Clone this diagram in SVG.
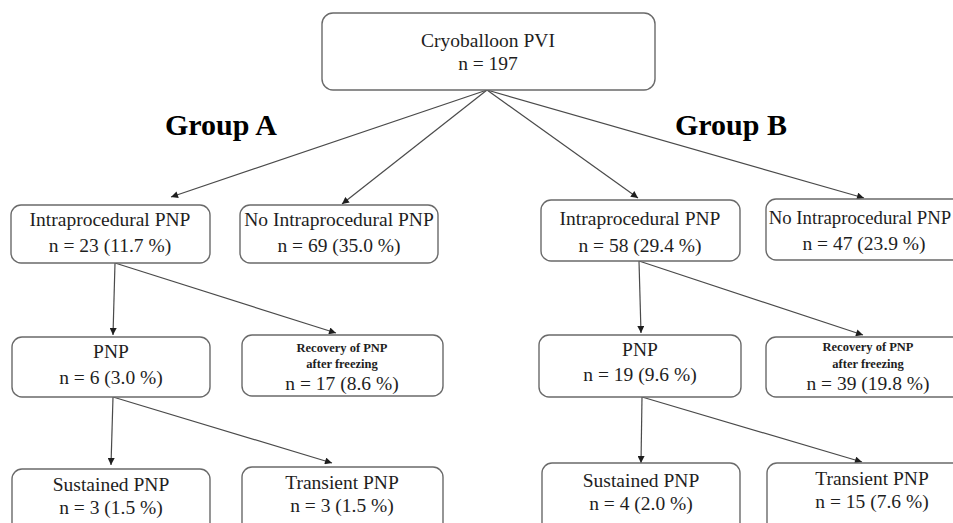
<svg xmlns="http://www.w3.org/2000/svg" width="953" height="523" viewBox="0 0 953 523">
<style>
.box{fill:#fff;stroke:#6a6a6a;stroke-width:1.4}
.t{font-family:"Liberation Serif","Times New Roman",serif;font-size:19.5px;fill:#1e1e1e;text-anchor:middle}
.s{font-family:"Liberation Serif","Times New Roman",serif;font-size:12.5px;font-weight:bold;fill:#1e1e1e;text-anchor:middle}
.g{font-family:"Liberation Serif","Times New Roman",serif;font-size:30px;font-weight:bold;fill:#000;text-anchor:middle}
.c{fill:none;stroke:#4a4a4a;stroke-width:1.2}
</style>
<defs>
<marker id="ah" viewBox="0 0 10 10" refX="10" refY="5" markerWidth="8" markerHeight="7" markerUnits="userSpaceOnUse" orient="auto">
<path d="M0,0 L10,5 L0,10 z" fill="#1e1e1e"/>
</marker>
</defs>
<rect width="953" height="523" fill="#fff"/>
<g id="connectors">
<line class="c" x1="487" y1="90" x2="171" y2="197" marker-end="url(#ah)"/>
<line class="c" x1="487" y1="90" x2="342" y2="204" marker-end="url(#ah)"/>
<line class="c" x1="487" y1="90" x2="638" y2="198" marker-end="url(#ah)"/>
<line class="c" x1="487" y1="90" x2="864" y2="198" marker-end="url(#ah)"/>
<line class="c" x1="115" y1="263" x2="113" y2="335" marker-end="url(#ah)"/>
<line class="c" x1="115" y1="263" x2="336" y2="333" marker-end="url(#ah)"/>
<line class="c" x1="639" y1="261" x2="641" y2="333" marker-end="url(#ah)"/>
<line class="c" x1="639" y1="261" x2="863" y2="335" marker-end="url(#ah)"/>
<line class="c" x1="113" y1="397" x2="111" y2="465" marker-end="url(#ah)"/>
<line class="c" x1="113" y1="397" x2="332" y2="463" marker-end="url(#ah)"/>
<line class="c" x1="642" y1="397" x2="641" y2="463" marker-end="url(#ah)"/>
<line class="c" x1="642" y1="397" x2="862" y2="462" marker-end="url(#ah)"/>
</g>
<g id="labels">
<text class="g" x="221" y="135">Group A</text>
<text class="g" x="731" y="135">Group B</text>
</g>
<g id="root">
<rect class="box" x="322" y="13" width="333" height="77" rx="11"/>
<text class="t" x="488" y="47">Cryoballoon PVI</text>
<text class="t" x="488" y="70">n = 197</text>
</g>
<g id="a-intra">
<rect class="box" x="11" y="205" width="199" height="58" rx="10"/>
<text class="t" x="110" y="226">Intraprocedural PNP</text>
<text class="t" x="110" y="252">n = 23 (11.7 %)</text>
</g>
<g id="a-nointra">
<rect class="box" x="240" y="205" width="198" height="58" rx="10"/>
<text class="t" x="339" y="226">No Intraprocedural PNP</text>
<text class="t" x="339" y="252">n = 69 (35.0 %)</text>
</g>
<g id="b-intra">
<rect class="box" x="541" y="200" width="199" height="61" rx="10"/>
<text class="t" x="640" y="225">Intraprocedural PNP</text>
<text class="t" x="640" y="252">n = 58 (29.4 %)</text>
</g>
<g id="b-nointra">
<rect class="box" x="766" y="199" width="200" height="61" rx="10"/>
<text class="t" x="860" y="224" style="font-size:18.8px">No Intraprocedural PNP</text>
<text class="t" x="864" y="250">n = 47 (23.9 %)</text>
</g>
<g id="a-pnp">
<rect class="box" x="12" y="337" width="198" height="60" rx="10"/>
<text class="t" x="111" y="358">PNP</text>
<text class="t" x="111" y="384">n = 6 (3.0 %)</text>
</g>
<g id="a-recovery">
<rect class="box" x="242" y="335" width="201" height="61" rx="10"/>
<text class="s" x="342" y="352">Recovery of PNP</text>
<text class="s" x="342" y="368">after freezing</text>
<text class="t" x="342" y="390">n = 17 (8.6 %)</text>
</g>
<g id="b-pnp">
<rect class="box" x="539" y="335" width="202" height="62" rx="10"/>
<text class="t" x="640" y="356">PNP</text>
<text class="t" x="640" y="381">n = 19 (9.6 %)</text>
</g>
<g id="b-recovery">
<rect class="box" x="766" y="337" width="204" height="60" rx="10"/>
<text class="s" x="868" y="351">Recovery of PNP</text>
<text class="s" x="868" y="368">after freezing</text>
<text class="t" x="868" y="390">n = 39 (19.8 %)</text>
</g>
<g id="a-sustained">
<rect class="box" x="12" y="469" width="198" height="70" rx="10"/>
<text class="t" x="111" y="491">Sustained PNP</text>
<text class="t" x="111" y="514">n = 3 (1.5 %)</text>
</g>
<g id="a-transient">
<rect class="box" x="242" y="467" width="201" height="70" rx="10"/>
<text class="t" x="342" y="489">Transient PNP</text>
<text class="t" x="342" y="512">n = 3 (1.5 %)</text>
</g>
<g id="b-sustained">
<rect class="box" x="542" y="463" width="198" height="70" rx="10"/>
<text class="t" x="641" y="487">Sustained PNP</text>
<text class="t" x="641" y="510">n = 4 (2.0 %)</text>
</g>
<g id="b-transient">
<rect class="box" x="767" y="463" width="204" height="70" rx="10"/>
<text class="t" x="872" y="485">Transient PNP</text>
<text class="t" x="872" y="508">n = 15 (7.6 %)</text>
</g>
</svg>
